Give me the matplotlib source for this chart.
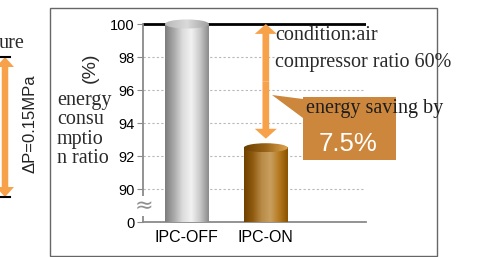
import numpy as np
import matplotlib
matplotlib.use("Agg")
import matplotlib.pyplot as plt
from matplotlib.colors import LinearSegmentedColormap
from matplotlib.patches import Rectangle, Ellipse, FancyArrow, Polygon

categories = ["IPC-OFF", "IPC-ON"]
values = [100.0, 92.5]
tick_pos = [88, 90, 92, 94, 96, 98, 100]
tick_labels = ["0", "90", "92", "94", "96", "98", "100"]
saving_text = "7.5%"

W, H = 482, 257
fig = plt.figure(figsize=(W / 100, H / 100), dpi=100)

# main axes: 88 (shown as 0) at y=222px, 100 at y=24px
ppu = (222 - 24) / 12.0
ytop = 100.6
ax = fig.add_axes([143 / W, (H - 222) / H, (366 - 143) / W, (ytop - 88) * ppu / H])
ax.set_xlim(-0.557, 2.27)
ax.set_ylim(88, ytop)
for s in ["top", "right"]:
    ax.spines[s].set_visible(False)
ax.spines["left"].set_bounds(88, 100)
ax.spines["left"].set_color("#8a8a8a")
ax.spines["bottom"].set_color("#8a8a8a")
ax.spines["left"].set_linewidth(1.3)
ax.spines["bottom"].set_linewidth(1.3)
ax.set_yticks(tick_pos)
ax.set_yticklabels(tick_labels, fontsize=10.5, family="Liberation Sans")
ax.tick_params(axis="y", length=4, color="#8a8a8a", pad=2)
ax.set_xticks(range(len(categories)))
ax.set_xticklabels(categories, fontsize=11.5, family="Liberation Sans")
ax.tick_params(axis="x", length=0, pad=6)

for g in tick_pos[1:-1]:
    ax.axhline(g, xmin=0, xmax=0.985, color="#b8b8b8", lw=0.8, ls=(0, (2, 2)), zorder=1)
ax.axhline(100, xmin=0, xmax=1, color="black", lw=2, zorder=2)

# axis break mark
ax.text(-0.55, 88.95, "≈", fontsize=16, color="#909090", ha="center", va="center",
        bbox=dict(fc="white", ec="none", pad=0), zorder=5)

gray = LinearSegmentedColormap.from_list("g", ["#7c7c7c", "#a8a8a8", "#dcdcdc", "#f2f2f2", "#c8c8c8", "#8a8a8a"])
gray_top = LinearSegmentedColormap.from_list("gt", ["#b8b8b8", "#dadada", "#a0a0a0"])
brown = LinearSegmentedColormap.from_list("b", ["#6e4100", "#8f5a10", "#b88a45", "#c9a060", "#b57a20", "#8a5200"])
brown_top = LinearSegmentedColormap.from_list("bt", ["#6a3e00", "#9a6418", "#e0a650"])
cmaps = [(gray, gray_top), (brown, brown_top)]

bw = 0.557
eh = 0.55
grad = np.linspace(0, 1, 256).reshape(1, -1)
for i, v in enumerate(values):
    cm, cmt = cmaps[i]
    x0, x1 = i - bw / 2, i + bw / 2
    ax.imshow(grad, cmap=cm, extent=[x0, x1, 88, v], aspect="auto", zorder=3)
    el = Ellipse((i, v), bw, eh, transform=ax.transData)
    im = ax.imshow(grad, cmap=cmt, extent=[x0, x1, v - eh / 2, v + eh / 2], aspect="auto", zorder=4)
    im.set_clip_path(el)
ax.set_xlim(-0.557, 2.27)
ax.set_ylim(88, ytop)

orange = "#f7a24b"
# saving arrow, drawn over IPC-ON between the two values
ax_x = 1.0
top_v, bot_v = values[0], values[1] + 0.55
mid = (top_v + bot_v) / 2
for a, b in [(mid, top_v), (mid, bot_v)]:
    ax.add_patch(FancyArrow(ax_x, a, 0, b - a, width=0.085, head_width=0.28, head_length=0.6,
                            length_includes_head=True, color=orange, ec="none", zorder=6))

# overlay in pixel coordinates for annotations
ov = fig.add_axes([0, 0, 1, 1], zorder=10)
ov.set_xlim(0, W)
ov.set_ylim(H, 0)
ov.axis("off")
ov.patch.set_alpha(0)

ov.add_patch(Rectangle((50, 8), 387, 248, fill=False, ec="#666666", lw=1))

serif = "Liberation Serif"
txt = "#2a2a2a"
ov.text(57, 91, "energy\nconsu\nmptio\nn ratio", family=serif, fontsize=14.5, color=txt,
        va="top", ha="left", linespacing=1.02)
ov.text(90, 68, "(%)", family="Liberation Sans", fontsize=14, rotation=90, ha="center", va="center",
        color=txt)

ov.text(275, 36, "condition:air", family=serif, fontsize=14.5, color=txt, va="center")
ov.text(275, 62, "compressor ratio 60%", family=serif, fontsize=14.5, color=txt, va="center")

box_c = "#cd873d"
ov.add_patch(Polygon([(272, 95), (303, 99), (303, 118)], closed=True, fc=box_c, ec="none"))
ov.add_patch(Rectangle((303, 97), 93, 63, fc=box_c, ec="none"))
ov.text(306, 108, "energy saving by", family=serif, fontsize=14.5, color="#1e1e1e", va="center")
ov.text(348, 144, saving_text, family="Liberation Sans", fontsize=18.5, color="white",
        ha="center", va="center")

# partial neighbouring panel on the left
ov.text(25, 43, "ure", family=serif, fontsize=14.5, color=txt, ha="right", va="center")
for a, b in [(127, 57), (127, 197)]:
    ov.add_patch(FancyArrow(5, a, 0, b - a, width=6.5, head_width=18, head_length=10,
                            length_includes_head=True, color=orange, ec="none"))
ov.plot([0, 10], [57, 57], color="black", lw=1.5)
ov.plot([0, 10], [197, 197], color="black", lw=1.5)
ov.text(30, 124, "ΔP=0.15MPa", family="Liberation Sans", fontsize=12, rotation=90,
        ha="center", va="center", color="#222222")

fig.savefig("out.png", dpi=100)
